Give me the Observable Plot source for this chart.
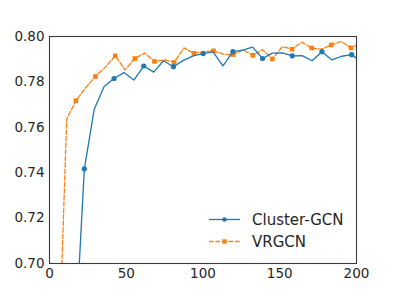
<!DOCTYPE html>
<html>
<head>
<meta charset="utf-8">
<script src="https://cdn.jsdelivr.net/npm/d3@7"></script>
<script src="https://cdn.jsdelivr.net/npm/@observablehq/plot@0.6"></script>
<style>
  html, body { margin: 0; padding: 0; background: white; }
</style>
</head>
<body>
<div id="chart"></div>
<script>
const seriesNames = ["Cluster-GCN", "VRGCN"];
const seriesColors = ["#1f77b4", "#ff7f0e"];
const xTicks = [0, 50, 100, 150, 200];
const yTicks = [0.70, 0.72, 0.74, 0.76, 0.78, 0.80];

const clusterX = [16.25, 22.7, 29.15, 35.6, 42.05, 48.5, 54.95, 61.4, 67.85, 74.3, 80.75, 87.2, 93.65, 100.1, 106.55, 113.0, 119.45, 125.9, 132.35, 138.8, 145.25, 151.7, 158.15, 164.6, 171.05, 177.5, 183.95, 190.4, 196.85, 203.3];
const clusterY = [0.660, 0.7417, 0.768, 0.778, 0.7815, 0.7841, 0.7808, 0.7870, 0.7843, 0.7893, 0.7867, 0.7895, 0.7915, 0.7925, 0.7932, 0.7871, 0.7933, 0.7940, 0.7953, 0.7903, 0.7927, 0.7928, 0.7915, 0.7916, 0.7893, 0.7933, 0.7897, 0.7913, 0.7920, 0.7888];

const vrX = [4.6, 11.2, 17.2, 23.6, 30.0, 36.4, 42.8, 49.2, 55.6, 62.0, 68.4, 74.8, 81.2, 87.6, 94.0, 100.4, 106.8, 113.2, 119.6, 126.0, 132.4, 138.8, 145.2, 151.6, 158.0, 164.4, 170.8, 177.2, 183.6, 190.0, 196.4, 202.8];
const vrY = [0.628, 0.7636, 0.7717, 0.7775, 0.7824, 0.7865, 0.7915, 0.7853, 0.7903, 0.7927, 0.7890, 0.7897, 0.7886, 0.7950, 0.7926, 0.7933, 0.7937, 0.7922, 0.7920, 0.7941, 0.7917, 0.7942, 0.7901, 0.7955, 0.7944, 0.7975, 0.7949, 0.7944, 0.7963, 0.7978, 0.7950, 0.7970];

const cluster = clusterX.map((x, i) => ({x, y: clusterY[i]}));
const vr = vrX.map((x, i) => ({x, y: vrY[i]}));
const clusterMarks = cluster.filter((d, i) => i % 3 === 1);
const vrMarks = vr.filter((d, i) => i >= 2 && i % 2 === 0);

const textColor = "#262626";

const plot = Plot.plot({
  width: 395,
  height: 296,
  marginLeft: 49,
  marginRight: 39,
  marginTop: 36,
  marginBottom: 33,
  style: {fontFamily: "DejaVu Sans", fontSize: "13.5px", color: textColor, background: "white"},
  x: {domain: [0, 200]},
  y: {domain: [0.70, 0.80]},
  marks: [
    Plot.axisX({ticks: xTicks, tickSize: 0, tickPadding: 5, label: null, fontSize: 13.5}),
    Plot.axisY({ticks: yTicks, tickSize: 0, tickPadding: 5, label: null, tickFormat: d3.format(".2f"), fontSize: 13.5}),
    Plot.line(vr, {x: "x", y: "y", stroke: seriesColors[1], strokeWidth: 1.3, strokeDasharray: "4.5,2", clip: true}),
    Plot.dot(vrMarks, {x: "x", y: "y", symbol: "square", r: 2.6, fill: seriesColors[1], clip: true}),
    Plot.line(cluster, {x: "x", y: "y", stroke: seriesColors[0], strokeWidth: 1.3, clip: true}),
    Plot.dot(clusterMarks, {x: "x", y: "y", r: 2.6, fill: seriesColors[0], clip: true}),
    Plot.frame({stroke: "#3a3a3a", strokeWidth: 1.1})
  ]
});

// legend inside the plot, lower right
const svg = d3.select(plot);
const lg = svg.append("g");
const legendX0 = 209, legendX1 = 240, legendTextX = 252;
const rowY = [219.5, 241.5];
seriesNames.forEach((name, i) => {
  const y = rowY[i];
  lg.append("line")
    .attr("x1", legendX0).attr("x2", legendX1).attr("y1", y).attr("y2", y)
    .attr("stroke", seriesColors[i]).attr("stroke-width", 1.3)
    .attr("stroke-dasharray", i === 1 ? "4.5,2" : null);
  const mx = (legendX0 + legendX1) / 2;
  if (i === 0) {
    lg.append("circle").attr("cx", mx).attr("cy", y).attr("r", 2.3).attr("fill", seriesColors[i]);
  } else {
    lg.append("rect").attr("x", mx - 2.2).attr("y", y - 2.2).attr("width", 4.4).attr("height", 4.4).attr("fill", seriesColors[i]);
  }
  lg.append("text").attr("x", legendTextX).attr("y", y).attr("dy", "0.36em")
    .style("font-family", "DejaVu Sans").style("font-size", "15px").style("text-anchor", "start")
    .attr("fill", textColor).text(name);
});

document.getElementById("chart").appendChild(plot);
</script>
</body>
</html>
